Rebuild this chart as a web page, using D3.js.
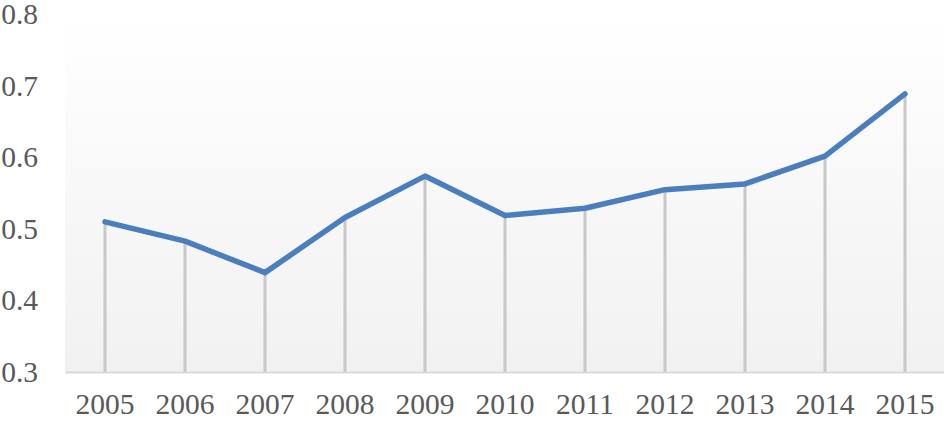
<!DOCTYPE html>
<html><head><meta charset="utf-8">
<script src="https://cdn.jsdelivr.net/npm/d3@7"></script>
<style>body{margin:0;background:#fff}svg{display:block}</style>
</head><body>
<script>
const years = ["2005","2006","2007","2008","2009","2010","2011","2012","2013","2014","2015"];
const values = [0.510, 0.483, 0.439, 0.516, 0.574, 0.519, 0.529, 0.555, 0.563, 0.602, 0.689];
const yTicks = [0.3, 0.4, 0.5, 0.6, 0.7, 0.8];

const W = 944, H = 424;
const m = {left: 65, right: -1, top: 14.5, bottom: 52};
const svg = d3.select("body").append("svg").attr("width", W).attr("height", H);
const x = d3.scaleBand().domain(years).range([m.left, W - m.right]);
const y = d3.scaleLinear().domain([0.3, 0.8]).range([H - m.bottom, m.top]);

const defs = svg.append("defs");
const g = defs.append("linearGradient").attr("id","bg").attr("x1",0).attr("y1",0).attr("x2",0).attr("y2",1);
g.append("stop").attr("offset","0%").attr("stop-color","#ffffff");
g.append("stop").attr("offset","100%").attr("stop-color","#f1f1f1");

svg.append("rect").attr("x", m.left).attr("y", y(0.8)).attr("width", W - m.right - m.left)
  .attr("height", y(0.3) - y(0.8)).attr("fill", "url(#bg)");

const font = "'Liberation Serif','Times New Roman',serif";

// y axis labels
const ya = svg.append("g").attr("transform", "translate(38,0)")
  .call(d3.axisLeft(y).tickValues(yTicks).tickFormat(d3.format(".1f")).tickSize(0).tickPadding(0));
ya.select(".domain").remove();
ya.selectAll("text").attr("font-family", font).attr("font-size", 29.5).attr("fill", "#595959");

// drop lines
svg.append("g").selectAll("line").data(values).join("line")
  .attr("x1", (d,i) => x(years[i]) + x.bandwidth()/2)
  .attr("x2", (d,i) => x(years[i]) + x.bandwidth()/2)
  .attr("y1", d => y(d)).attr("y2", y(0.3))
  .attr("stroke", "#c8c8c8").attr("stroke-width", 3);

// x axis
const xa = svg.append("g").attr("transform", `translate(0,${y(0.3)})`)
  .call(d3.axisBottom(x).tickSize(0).tickPadding(21));
xa.select(".domain").attr("stroke", "#d9d9d9").attr("stroke-width", 2);
xa.selectAll("text").attr("font-family", font).attr("font-size", 29.5).attr("fill", "#595959");

// line
const line = d3.line().x((d,i) => x(years[i]) + x.bandwidth()/2).y(d => y(d));
svg.append("path").datum(values).attr("d", line).attr("fill", "none")
  .attr("stroke", "#4a7ebf").attr("stroke-width", 5.5).attr("stroke-linejoin", "round").attr("stroke-linecap", "round");
</script>
</body></html>
